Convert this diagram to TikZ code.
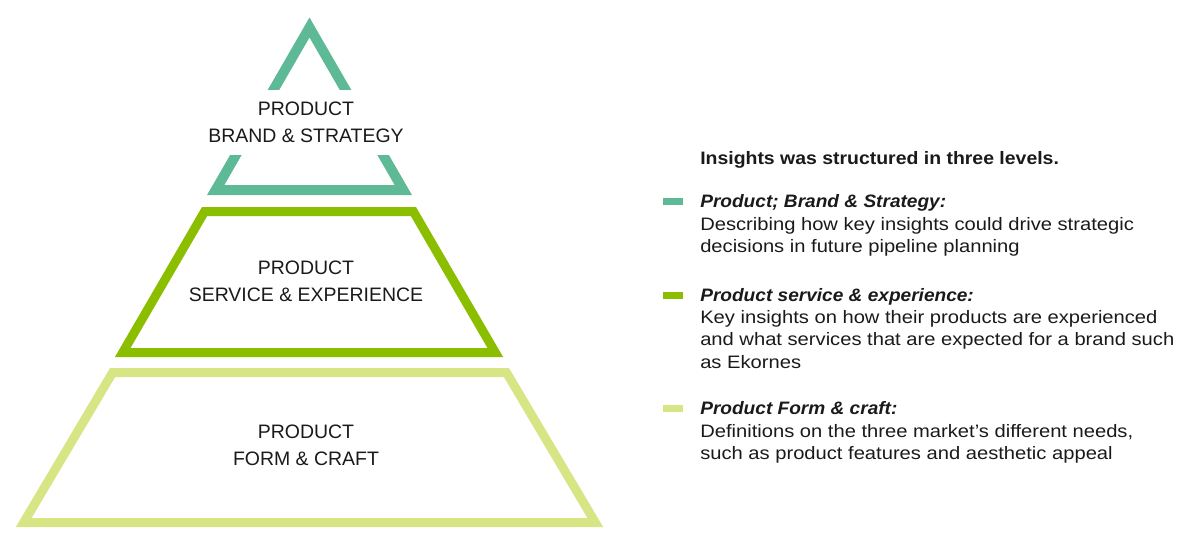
\documentclass[tikz,border=0pt]{standalone}
\usepackage{fontspec}
\setmainfont{Liberation Sans}
\newfontfamily\legreg[FakeStretch=1.12]{Liberation Sans}
\newfontfamily\leghead[FakeStretch=1.08]{Liberation Sans Bold}
\newfontfamily\legttl[FakeStretch=1.06]{Liberation Sans Bold Italic}
\definecolor{cteal}{HTML}{5DB996}
\definecolor{clime}{HTML}{8CBE00}
\definecolor{cpale}{HTML}{D7E585}
\definecolor{ctext}{HTML}{1A1A1A}
\begin{document}
\begin{tikzpicture}[x=0.75pt,y=-0.75pt,
  tier/.style={line width=6.75pt,line join=miter,miter limit=10},
  plabel/.style={align=center,text=ctext,inner sep=0pt,font=\fontsize{14.6pt}{20.25pt}\selectfont},
  bar/.style={minimum width=15pt,minimum height=5.25pt,inner sep=0pt,draw=none},
  head/.style={anchor=base west,inner sep=0pt,text=ctext,font=\leghead\fontsize{13.5pt}{16.9pt}\selectfont},
  ttl/.style={anchor=base west,inner sep=0pt,text=ctext,font=\legttl\fontsize{13.5pt}{16.9pt}\selectfont},
  desc/.style={anchor=base west,inner sep=0pt,text=ctext,font=\legreg\fontsize{13.5pt}{16.9pt}\selectfont}]
\useasboundingbox (0,0) rectangle (1200,551);
% bottom tier
\draw[tier,draw=cpale] (112.6,372.5) -- (506.4,372.5) -- (595.3,522.5) -- (23.7,522.5) -- cycle;
% middle tier
\draw[tier,draw=clime] (204.6,211.5) -- (413.4,211.5) -- (495.3,352.5) -- (122.7,352.5) -- cycle;
% top triangle
\draw[tier,line width=7.5pt,draw=cteal] (309.5,27.5) -- (403.3,190) -- (215.7,190) -- cycle;
% labels
\node[plabel,fill=white,inner xsep=4pt,inner ysep=9pt] (l1) at (306,122.5) {PRODUCT\\BRAND \& STRATEGY};
\node[plabel] (l2) at (306,281) {PRODUCT\\SERVICE \& EXPERIENCE};
\node[plabel] (l3) at (306,445) {PRODUCT\\FORM \& CRAFT};
% legend
\node[head] (h) at (700,164) {Insights was structured in three levels.};
\node[bar,fill=cteal] (b1) at (673,201.5) {};
\node[ttl] (t1) at (700,207) {Product; Brand \& Strategy:};
\node[desc] (d11) at (700,230) {Describing how key insights could drive strategic};
\node[desc] (d12) at (700,252) {decisions in future pipeline planning};
\node[bar,fill=clime] (b2) at (673,295.5) {};
\node[ttl] (t2) at (700,301) {Product service \& experience:};
\node[desc] (d21) at (700,323) {Key insights on how their products are experienced};
\node[desc] (d22) at (700,345.5) {and what services that are expected for a brand such};
\node[desc] (d23) at (700,368) {as Ekornes};
\node[bar,fill=cpale] (b3) at (673,408.5) {};
\node[ttl] (t3) at (700,414) {Product Form \& craft:};
\node[desc] (d31) at (700,437) {Definitions on the three market’s different needs,};
\node[desc] (d32) at (700,459) {such as product features and aesthetic appeal};
\end{tikzpicture}
\end{document}
